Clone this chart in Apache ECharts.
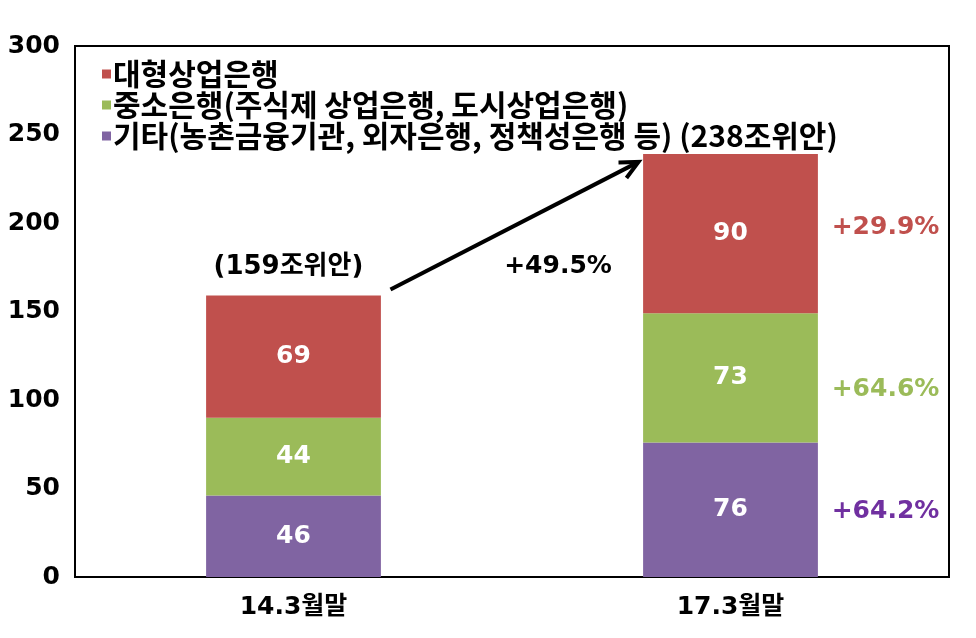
<!DOCTYPE html>
<html><head><meta charset="utf-8">
<script src="https://cdn.jsdelivr.net/npm/echarts@6/dist/echarts.min.js"></script>
<style>html,body{margin:0;padding:0;background:#fff}#c{width:976px;height:638px}</style>
</head><body><div id="c"></div>
<script>
const categories = ['14.3월말', '17.3월말'];
const seriesNames = ['대형상업은행', '중소은행(주식제 상업은행, 도시상업은행)', '기타(농촌금융기관, 외자은행, 정책성은행 등)'];
const largeBanks = [69, 90];
const smallBanks = [44, 73];
const others = [46, 76];
const totals = ['(159조위안)', '(238조위안)'];
const growth = ['+29.9%', '+64.6%', '+64.2%']; // large, small, others
const totalGrowth = '+49.5%';
const colors = ['#c0504d', '#9bbb59', '#8064a2'];
const growthColors = ['#c0504d', '#9bbb59', '#7030a0'];
const yTicks = [0, 50, 100, 150, 200, 250, 300];

const FONT = '"DejaVu Sans", "Noto Sans CJK KR", sans-serif';
const KFONT = '"Noto Sans CJK KR", "DejaVu Sans", sans-serif';
const chart = echarts.init(document.getElementById('c'));

const barLabel = {show: true, position: 'inside', color: '#fff', fontSize: 25, fontWeight: 'bold', fontFamily: FONT};

// growth label anchors at segment middles for 17.3월말
const mids = [
  others[1] + smallBanks[1] + largeBanks[1] / 2,
  others[1] + smallBanks[1] / 2,
  others[1] / 2
];

chart.setOption({
  animation: false,
  grid: {left: 75, right: 27, top: 46, bottom: 61, show: true, borderColor: '#000', borderWidth: 2, backgroundColor: 'transparent'},
  legend: {
    orient: 'vertical', left: 97, top: 54, itemWidth: 9, itemHeight: 9, itemGap: 1,
    icon: 'rect', data: seriesNames,
    formatter: n => n === seriesNames[2] ? n + ' ' + totals[1] : n,
    textStyle: {fontSize: 30, lineHeight: 30, fontWeight: 'bold', color: '#000', fontFamily: KFONT, padding: [0,0,0,-3]}
  },
  xAxis: {
    type: 'category', data: categories,
    axisLine: {lineStyle: {color: '#000', width: 2}}, axisTick: {show: false},
    axisLabel: {fontSize: 25, fontWeight: 'bold', color: '#000', margin: 18, fontFamily: FONT}
  },
  yAxis: {
    type: 'value', min: 0, max: 300, interval: 50,
    axisLine: {show: true, lineStyle: {color: '#000', width: 2}}, axisTick: {show: false},
    splitLine: {show: false},
    axisLabel: {fontSize: 25, fontWeight: 'bold', color: '#000', margin: 15, fontFamily: FONT}
  },
  series: [
    {name: seriesNames[2], type: 'bar', stack: 't', data: others, barWidth: '40%', itemStyle: {color: colors[2]}, label: barLabel},
    {name: seriesNames[1], type: 'bar', stack: 't', data: smallBanks, itemStyle: {color: colors[1]}, label: barLabel},
    {name: seriesNames[0], type: 'bar', stack: 't', data: largeBanks, itemStyle: {color: colors[0]}, label: barLabel},
    {type: 'scatter', symbolSize: 0, silent: true, z: 10, itemStyle: {opacity: 1},
     data: growth.map((g, i) => ({value: [1, mids[i]], label: {show: true, formatter: g, color: growthColors[i], offset: [155, [-6, 12, 2][i]], position: 'inside', fontSize: 25, fontWeight: 'bold', fontFamily: FONT}}))}
  ]
});

function drawAnnotations() {
  const t0 = others[0] + smallBanks[0] + largeBanks[0];
  const t1 = others[1] + smallBanks[1] + largeBanks[1];
  const p0 = chart.convertToPixel({gridIndex: 0}, [0, t0]);
  const p1 = chart.convertToPixel({gridIndex: 0}, [1, t1]);
  const sx = p0[0] + 97, sy = p0[1] - 6;
  const ex = p1[0] - 92, ey = p1[1] + 8;
  const ang = Math.atan2(ey - sy, ex - sx);
  const hl = 20, hw = 0.45;
  chart.setOption({
    graphic: [
      {type: 'text', z: 100, x: p0[0] - 80, y: p0[1] - 28, style: {text: totals[0], font: 'bold 26px ' + FONT, fill: '#000', verticalAlign: 'middle'}},
      {type: 'line', z: 100, shape: {x1: sx, y1: sy, x2: ex - 2 * Math.cos(ang), y2: ey - 2 * Math.sin(ang)}, style: {stroke: '#000', lineWidth: 4}},
      {type: 'polyline', z: 100, shape: {points: [
        [ex - hl * Math.cos(ang - hw), ey - hl * Math.sin(ang - hw)], [ex, ey],
        [ex - hl * Math.cos(ang + hw), ey - hl * Math.sin(ang + hw)]]}, style: {stroke: '#000', lineWidth: 4, fill: null}},
      {type: 'text', z: 100, x: (p0[0] + p1[0]) / 2 + 46, y: p0[1] - 29, style: {text: totalGrowth, font: 'bold 25px ' + FONT, fill: '#000', align: 'center', verticalAlign: 'middle'}}
    ]
  });
}
drawAnnotations();
</script>
</body></html>
